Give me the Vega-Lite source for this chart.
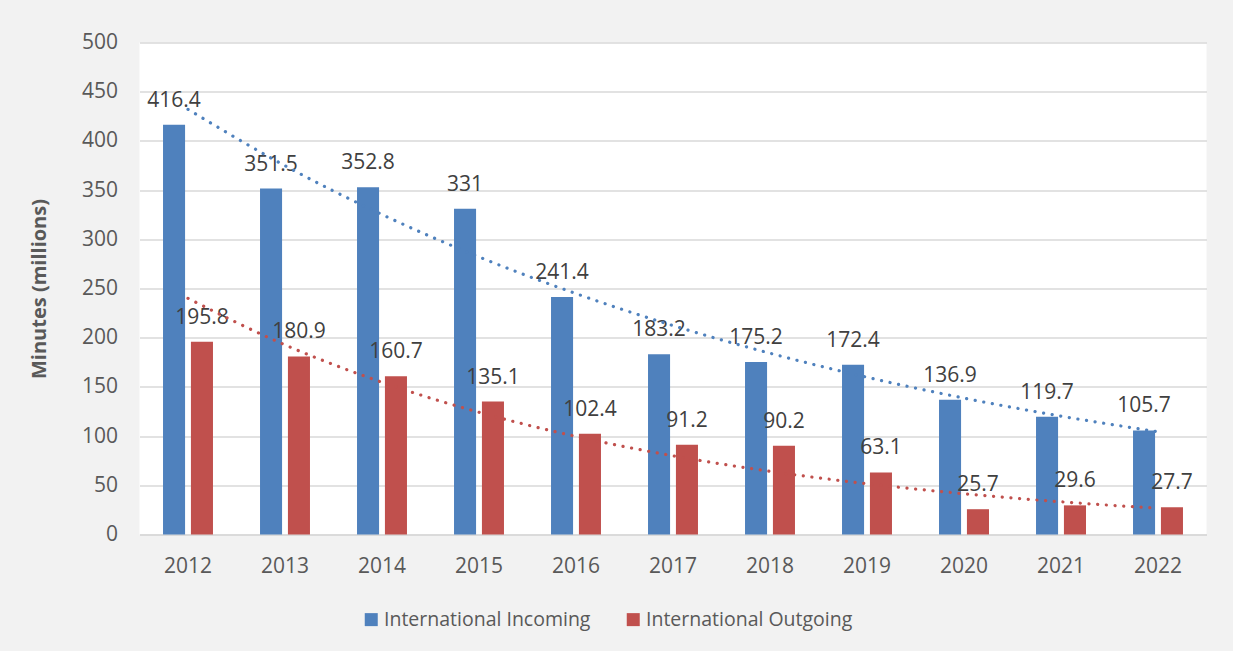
{
  "$schema": "https://vega.github.io/schema/vega-lite/v6.json",
  "width": 1067,
  "height": 492,
  "autosize": {"type": "none"},
  "padding": {"left": 139.5, "top": 42.5, "right": 26.5, "bottom": 116.5},
  "background": "#f2f2f2",
  "config": {
    "font": "Open Sans",
    "view": {"fill": "white", "stroke": null}
  },
  "data": {
    "values": [
      {"year": "2012", "series": "International Incoming", "value": 416.4, "trend": 432.1},
      {"year": "2013", "series": "International Incoming", "value": 351.5, "trend": 374.8},
      {"year": "2014", "series": "International Incoming", "value": 352.8, "trend": 325.2},
      {"year": "2015", "series": "International Incoming", "value": 331, "trend": 282.1},
      {"year": "2016", "series": "International Incoming", "value": 241.4, "trend": 244.8},
      {"year": "2017", "series": "International Incoming", "value": 183.2, "trend": 212.3},
      {"year": "2018", "series": "International Incoming", "value": 175.2, "trend": 184.2},
      {"year": "2019", "series": "International Incoming", "value": 172.4, "trend": 159.8},
      {"year": "2020", "series": "International Incoming", "value": 136.9, "trend": 138.6},
      {"year": "2021", "series": "International Incoming", "value": 119.7, "trend": 120.3},
      {"year": "2022", "series": "International Incoming", "value": 105.7, "trend": 104.4},
      {"year": "2012", "series": "International Outgoing", "value": 195.8, "trend": 240.0},
      {"year": "2013", "series": "International Outgoing", "value": 180.9, "trend": 192.7},
      {"year": "2014", "series": "International Outgoing", "value": 160.7, "trend": 154.7},
      {"year": "2015", "series": "International Outgoing", "value": 135.1, "trend": 124.2},
      {"year": "2016", "series": "International Outgoing", "value": 102.4, "trend": 99.7},
      {"year": "2017", "series": "International Outgoing", "value": 91.2, "trend": 80.0},
      {"year": "2018", "series": "International Outgoing", "value": 90.2, "trend": 64.2},
      {"year": "2019", "series": "International Outgoing", "value": 63.1, "trend": 51.6},
      {"year": "2020", "series": "International Outgoing", "value": 25.7, "trend": 41.4},
      {"year": "2021", "series": "International Outgoing", "value": 29.6, "trend": 33.2},
      {"year": "2022", "series": "International Outgoing", "value": 27.7, "trend": 26.7}
    ]
  },
  "encoding": {
    "x": {
      "field": "year",
      "type": "nominal",
      "scale": {"paddingInner": 0.485, "paddingOuter": 0.2425},
      "axis": {
        "title": null,
        "labelAngle": 0,
        "labelFontSize": 21,
        "labelColor": "#595959",
        "labelPadding": 21,
        "ticks": false,
        "domainColor": "#d9d9d9",
        "domainWidth": 1.5
      }
    }
  },
  "layer": [
    {
      "mark": {"type": "bar"},
      "encoding": {
        "xOffset": {"field": "series", "type": "nominal", "scale": {"paddingInner": 0.21, "paddingOuter": 0}},
        "y": {
          "field": "value",
          "type": "quantitative",
          "scale": {"domain": [0, 500], "nice": false},
          "axis": {
            "title": "Minutes (millions)",
            "titleFontSize": 20,
            "titleFontWeight": "bold",
            "titleColor": "#595959",
            "titlePadding": 32,
            "values": [0, 50, 100, 150, 200, 250, 300, 350, 400, 450, 500],
            "labelFontSize": 21,
            "labelColor": "#595959",
            "labelPadding": 22,
            "domain": false,
            "ticks": false,
            "gridColor": "#d9d9d9",
            "gridWidth": 1.5
          }
        },
        "color": {
          "field": "series",
          "type": "nominal",
          "scale": {"range": ["#4f81bd", "#c0504d"]},
          "legend": {
            "title": null,
            "orient": "none",
            "direction": "horizontal",
            "legendX": 222,
            "legendY": 567,
            "symbolType": "square",
            "symbolSize": 169,
            "symbolStrokeWidth": 0,
            "labelFontSize": 19.5,
            "labelLimit": 0,
            "labelColor": "#595959",
            "labelOffset": 3,
            "columnPadding": 33
          }
        }
      }
    },
    {
      "mark": {"type": "text", "dy": -18, "baseline": "alphabetic", "fontSize": 21, "color": "#404040"},
      "encoding": {
        "xOffset": {"field": "series", "type": "nominal"},
        "y": {"field": "value", "type": "quantitative"},
        "text": {"field": "value", "type": "nominal"}
      }
    },
    {
      "mark": {"type": "line", "strokeDash": [0.1, 8.6], "strokeCap": "round", "strokeWidth": 3.2, "interpolate": "monotone"},
      "encoding": {
        "y": {"field": "trend", "type": "quantitative"},
        "color": {"field": "series", "type": "nominal"}
      }
    }
  ]
}
